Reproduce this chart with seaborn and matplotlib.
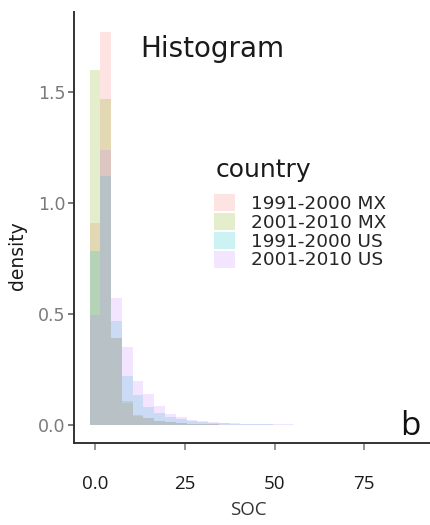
import numpy as np
import pandas as pd
import seaborn as sns
import matplotlib.pyplot as plt
from matplotlib.colors import to_rgb

# Bin centres of the SOC histogram (bin width 3)
bin_centers = [0, 3, 6, 9, 12, 15, 18, 21, 24, 27, 30, 33, 36, 39, 42, 45, 48, 51, 54, 57, 60]

countries = ["1991-2000 MX", "2001-2010 MX", "1991-2000 US", "2001-2010 US"]

# Density of each bin per group
dens_mx_1991 = [0.91, 1.77, 0.39, 0.10, 0.04, 0.03, 0.02, 0.012, 0.008, 0.006, 0.004,
                0.003, 0.002, 0.002, 0.001, 0.001, 0.001, 0.0, 0.0, 0.0, 0.0]
dens_mx_2001 = [1.60, 1.47, 0.39, 0.11, 0.045, 0.03, 0.018, 0.012, 0.008, 0.005, 0.004,
                0.003, 0.002, 0.002, 0.001, 0.001, 0.0, 0.0, 0.0, 0.0, 0.0]
dens_us_1991 = [0.785, 1.12, 0.47, 0.22, 0.135, 0.08, 0.055, 0.035, 0.025, 0.016, 0.012,
                0.009, 0.007, 0.005, 0.004, 0.003, 0.003, 0.002, 0.002, 0.001, 0.001]
dens_us_2001 = [0.495, 1.24, 0.57, 0.35, 0.20, 0.14, 0.085, 0.05, 0.037, 0.022, 0.016,
                0.012, 0.010, 0.008, 0.006, 0.005, 0.004, 0.003, 0.003, 0.002, 0.002]

palette = ["#F8766D", "#7CAE00", "#00BFC4", "#C77CFF"]

x_ticks = [0, 25, 50, 75]
x_tick_labels = ["0.0", "25", "50", "75"]
y_ticks = [0.0, 0.5, 1.0, 1.5]
y_tick_labels = ["0.0", "0.5", "1.0", "1.5"]

sns.set_style("white")
plt.rcParams["font.family"] = ["DejaVu Sans"]

W, H = 430, 525
fig = plt.figure(figsize=(W / 100, H / 100), dpi=100)
ax = fig.add_axes([74 / W, 1 - 443 / H, 1 - 74 / W, (443 - 12) / H])

df = pd.DataFrame({
    "SOC": bin_centers * 4,
    "density": dens_mx_1991 + dens_mx_2001 + dens_us_1991 + dens_us_2001,
    "country": sum([[c] * len(bin_centers) for c in countries], []),
})

sns.histplot(data=df, x="SOC", weights="density", hue="country", hue_order=countries,
             palette=palette, binwidth=3, binrange=(-1.5, 61.5), stat="count",
             multiple="layer", alpha=0.2, linewidth=0, ax=ax)

# Stack the layers in group order so the last group is painted on top
rgb_palette = [np.array(to_rgb(c)) for c in palette]
for cont in ax.containers:
    if not len(cont.patches):
        continue
    fc = np.array(cont.patches[0].get_facecolor()[:3])
    idx = int(np.argmin([np.abs(fc - c).sum() for c in rgb_palette]))
    for p in cont.patches:
        p.set_zorder(1 + 0.1 * idx)

ax.set_xlim(-5.85, 93.3)
ax.set_ylim(-0.081, 1.86)
ax.set_xticks(x_ticks)
ax.set_xticklabels(x_tick_labels)
ax.set_yticks(y_ticks)
ax.set_yticklabels(y_tick_labels)
ax.set_xlabel("")
ax.set_ylabel("")

for side in ["top", "right"]:
    ax.spines[side].set_visible(False)
for side in ["left", "bottom"]:
    ax.spines[side].set_color("#333333")
    ax.spines[side].set_linewidth(1.4)
    ax.spines[side].set_zorder(3)

ax.tick_params(axis="y", left=True, length=4, width=1.1, color="#555555",
               labelsize=12.5, labelcolor="#7a7a7a", pad=2)
ax.tick_params(axis="x", bottom=True, length=5, width=1.1, color="#777777",
               labelsize=13.5, labelcolor="#1a1a1a", pad=18)
for lbl in ax.get_xticklabels():
    lbl.set_fontfamily("Open Sans")

sns.move_legend(ax, loc="upper left", bbox_to_anchor=(214 / W, 1 - 194 / H),
                bbox_transform=fig.transFigure, frameon=False, title=None,
                fontsize=13.3, handlelength=1.15, handleheight=1.05,
                handletextpad=0.85, labelspacing=0.0, borderpad=0, borderaxespad=0)

fig.text(216 / W, 1 - 177 / H, "country", fontsize=18, va="baseline", ha="left",
         color="#1a1a1a")
fig.text(140 / W, 1 - 57 / H, "Histogram", fontsize=20, va="baseline", ha="left",
         color="#1a1a1a")
fig.text(18 / W, 1 - 256 / H, "density", fontsize=13.5, rotation=90,
         va="center", ha="center", color="#1a1a1a")
fig.text(248 / W, 1 - 510 / H, "SOC", fontsize=13.5, va="center", ha="center",
         family="Open Sans", color="#333333")
fig.text(400 / W, 1 - 435 / H, "b", fontsize=24, va="baseline", ha="left",
         family="Open Sans", color="#111111")

fig.savefig("out.png", dpi=100)
